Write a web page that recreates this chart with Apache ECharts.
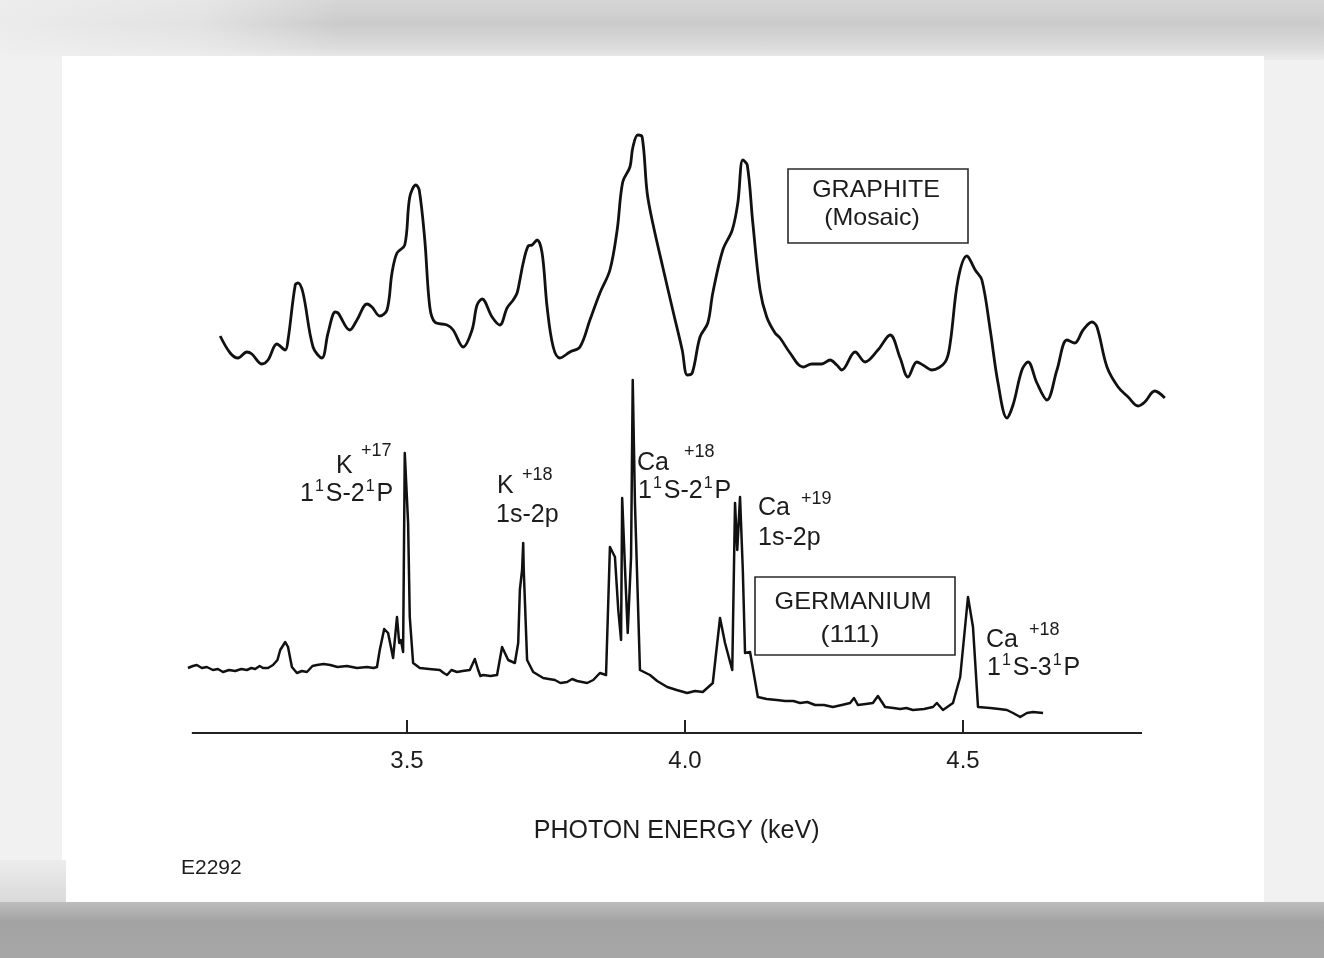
<!DOCTYPE html>
<html>
<head>
<meta charset="utf-8">
<script src="https://cdn.jsdelivr.net/npm/echarts@6/dist/echarts.min.js"></script>
<style>
  html, body { margin: 0; padding: 0; }
  body { width: 1324px; height: 958px; position: relative; overflow: hidden; background: #f1f1f1; }
  #paper { position: absolute; left: 62px; top: 56px; width: 1202px; height: 850px; background: #ffffff; }
  #topband { position: absolute; left: 0; top: 0; width: 1324px; height: 60px;
    background:
      linear-gradient(to right, rgba(241,241,241,0.85) 0px, rgba(241,241,241,0.6) 200px, rgba(241,241,241,0) 340px),
      linear-gradient(to bottom, #d6d6d6 0%, #cbcbcb 40%, #dcdcdc 80%, #ececec 100%); }
  #bottomband { position: absolute; left: 0; top: 902px; width: 1324px; height: 56px;
    background: linear-gradient(to bottom, #bdbdbd 0%, #a3a3a3 35%, #a6a6a6 100%); }
  #leftfoot { position: absolute; left: 0; top: 860px; width: 66px; height: 46px;
    background: linear-gradient(to bottom, #ececec 0%, #d8d8d8 100%); }
  #chart { position: absolute; left: 0; top: 0; width: 1324px; height: 958px; }
</style>
</head>
<body>
<div id="topband"></div>
<div id="paper"></div>
<div id="leftfoot"></div>
<div id="bottomband"></div>
<div id="chart"></div>
<script>
// ---- Data (photon energy in keV, intensity in arbitrary units) ----
const graphiteEnergy = [3.164,3.182,3.196,3.212,3.221,3.239,3.250,3.266,3.281,3.286,3.299,3.304,3.313,3.331,3.347,3.358,3.371,3.376,3.397,3.410,3.428,3.437,3.451,3.464,3.473,3.482,3.496,3.505,3.516,3.522,3.532,3.541,3.550,3.572,3.583,3.601,3.617,3.626,3.635,3.653,3.667,3.680,3.691,3.698,3.703,3.709,3.718,3.725,3.734,3.743,3.752,3.763,3.775,3.793,3.811,3.829,3.847,3.865,3.878,3.888,3.901,3.906,3.915,3.923,3.932,3.942,3.960,3.978,3.995,4.004,4.013,4.027,4.041,4.050,4.068,4.085,4.095,4.104,4.112,4.122,4.135,4.147,4.162,4.171,4.189,4.212,4.228,4.246,4.261,4.273,4.282,4.306,4.324,4.347,4.369,4.387,4.401,4.417,4.428,4.444,4.468,4.477,4.491,4.507,4.522,4.534,4.549,4.563,4.579,4.590,4.606,4.617,4.633,4.651,4.669,4.687,4.701,4.716,4.732,4.741,4.759,4.779,4.797,4.815,4.827,4.845,4.863];
const graphiteIntensity = [79.4,76.0,75.0,76.2,75.8,73.8,74.6,77.8,76.6,78.6,89.6,90.0,88.0,77.2,75.0,80.0,84.2,84.0,80.6,82.6,85.8,85.2,83.4,84.6,92.0,96.0,97.6,107.2,109.6,108.6,98.6,85.2,82.2,81.6,80.6,77.2,80.6,85.6,86.8,83.2,81.6,85.0,86.6,88.0,90.6,94.0,97.4,97.6,98.6,96.0,85.2,77.2,75.0,76.2,77.2,82.6,88.0,92.6,100.6,110.2,113.2,117.0,119.6,119.2,108.0,102.0,93.2,84.6,76.6,71.6,72.0,79.2,82.0,88.0,96.6,100.6,106.0,114.6,113.6,102.0,88.6,83.2,80.0,79.0,76.0,73.2,73.8,73.8,74.6,73.6,72.6,76.2,74.2,76.6,79.6,75.0,71.2,74.2,73.6,72.6,74.2,78.0,90.6,95.4,92.6,90.6,80.6,70.0,63.0,65.6,72.6,74.2,70.0,66.6,72.6,78.6,78.0,80.6,82.2,81.2,73.2,69.2,67.2,65.4,66.2,68.4,67.0];

const germaniumEnergy = [3.106,3.115,3.122,3.131,3.140,3.151,3.160,3.169,3.180,3.191,3.202,3.212,3.220,3.227,3.235,3.241,3.250,3.259,3.267,3.272,3.281,3.286,3.293,3.302,3.311,3.320,3.330,3.338,3.350,3.362,3.375,3.392,3.410,3.428,3.440,3.446,3.451,3.459,3.466,3.475,3.482,3.486,3.489,3.493,3.496,3.502,3.505,3.511,3.523,3.540,3.559,3.566,3.572,3.580,3.590,3.600,3.613,3.622,3.628,3.632,3.637,3.650,3.662,3.671,3.682,3.694,3.700,3.703,3.707,3.709,3.710,3.712,3.716,3.727,3.736,3.745,3.755,3.766,3.776,3.788,3.797,3.806,3.815,3.824,3.835,3.847,3.858,3.865,3.874,3.880,3.885,3.887,3.892,3.897,3.903,3.906,3.910,3.919,3.937,3.950,3.968,3.985,4.004,4.018,4.032,4.050,4.063,4.072,4.085,4.090,4.094,4.099,4.104,4.108,4.117,4.131,4.147,4.165,4.180,4.195,4.207,4.220,4.234,4.250,4.266,4.282,4.297,4.304,4.311,4.325,4.338,4.347,4.360,4.375,4.387,4.398,4.410,4.430,4.446,4.453,4.464,4.482,4.495,4.509,4.518,4.527,4.549,4.565,4.579,4.590,4.603,4.615,4.626,4.644];
const germaniumIntensity = [13.0,13.4,13.6,13.0,13.2,12.6,12.8,12.2,12.6,12.4,12.8,12.6,13.0,12.8,13.4,13.0,13.0,13.6,14.6,16.6,18.2,17.2,13.2,12.0,12.4,12.2,13.4,13.6,13.8,13.6,13.2,13.4,13.0,13.2,13.0,13.2,16.6,20.8,20.0,15.0,23.2,18.0,18.6,16.2,56.0,42.0,23.2,14.0,13.0,12.8,12.6,12.0,11.6,12.6,12.2,12.4,12.6,14.8,12.6,11.4,11.6,11.4,11.6,17.2,14.6,14.0,18.0,28.6,32.6,38.0,32.6,26.6,14.6,12.2,11.6,11.0,10.8,10.6,10.0,10.2,10.8,10.4,10.2,10.0,10.6,12.0,11.6,37.2,35.2,24.6,18.6,47.0,33.2,20.0,35.2,70.6,46.0,12.6,11.6,10.4,9.2,8.6,8.0,8.4,8.2,10.0,23.0,18.0,12.6,46.0,36.6,47.2,32.6,16.0,16.2,7.2,6.8,6.6,6.4,6.4,6.0,6.2,5.6,5.6,5.2,5.6,6.0,7.0,5.6,5.8,6.0,7.4,5.2,5.0,4.8,5.0,4.6,4.8,5.2,6.0,4.6,6.0,11.2,27.2,21.2,5.2,5.0,4.8,4.6,4.0,3.2,4.0,4.2,4.0];

const tickValues = [3.5, 4.0, 4.5];
const tickLabels = ['3.5', '4.0', '4.5'];
const axisSpan = [3.113, 4.822];
const axisTitle = 'PHOTON ENERGY (keV)';
const figureId = 'E2292';

const zip = (xs, ys) => xs.map((x, i) => [x, ys[i]]);

const FONT = '"Liberation Sans", Arial, Helvetica, sans-serif';
const INK = '#1c1c1c';
const SUP = { s: { fontSize: 16, lineHeight: 16, verticalAlign: 'top', padding: [0, 2, 0, 1], fontFamily: FONT, fill: INK } };

function txt(x, y, text, size, align, sx, lh) {
  const style = { text: text, fontSize: size, fontFamily: FONT, fill: INK, rich: SUP,
                  textAlign: align || 'left', textVerticalAlign: 'middle' };
  if (lh) style.lineHeight = lh;
  return { type: 'text', x: x, y: y, silent: true, scaleX: sx || 1, style: style };
}
function box(x, y, w, h) {
  return {
    type: 'rect', silent: true,
    shape: { x: x, y: y, width: w, height: h },
    style: { fill: 'none', stroke: '#2a2a2a', lineWidth: 1.6 }
  };
}

const chart = echarts.init(document.getElementById('chart'), null, { renderer: 'canvas' });
chart.setOption({
  animation: false,
  backgroundColor: 'transparent',
  grid: { left: 184.6, right: 155.3, top: 103, bottom: 225 },
  xAxis: {
    type: 'value', min: 3.1, max: 4.87,
    axisLine: { show: false },
    axisTick: { show: true, inside: true, length: 13, customValues: tickValues,
                lineStyle: { color: '#222', width: 2 } },
    axisLabel: { show: true, customValues: tickValues, margin: 16,
                 formatter: v => tickLabels[tickValues.indexOf(+(+v).toFixed(1))] || '',
                 fontSize: 24, fontFamily: FONT, color: INK },
    splitLine: { show: false },
    name: axisTitle, nameLocation: 'middle', nameGap: 86,
    nameTextStyle: { fontSize: 25, fontFamily: FONT, color: INK }
  },
  yAxis: { type: 'value', min: 0, max: 126, show: false },
  series: [
    {
      name: 'GRAPHITE (Mosaic)', type: 'line', data: zip(graphiteEnergy, graphiteIntensity),
      showSymbol: false, smooth: 0.35, clip: false,
      lineStyle: { color: '#111', width: 2.8 }
    },
    {
      name: 'GERMANIUM (111)', type: 'line', data: zip(germaniumEnergy, germaniumIntensity),
      showSymbol: false, smooth: false, clip: false,
      lineStyle: { color: '#111', width: 2.5, join: 'round' },
      markLine: {
        silent: true, symbol: ['none', 'none'], label: { show: false },
        lineStyle: { color: '#222', width: 2, type: 'solid' },
        data: [[{ coord: [axisSpan[0], 0] }, { coord: [axisSpan[1], 0] }]]
      }
    }
  ],
  graphic: [
    box(788, 169, 180, 74),
    txt(876, 190, 'GRAPHITE', 24, 'center', 1.04),
    txt(872, 218, '(Mosaic)', 24, 'center', 1.04),
    box(755, 577, 200, 78),
    txt(853, 602, 'GERMANIUM', 24, 'center', 1.05),
    txt(850, 635, '(111)', 24, 'center', 1.12),

    txt(336, 466, 'K', 25), txt(361, 451, '+17', 18), txt(300, 494, '1{s|1}S-2{s|1}P', 25, 'left', 1, 30),
    txt(497, 486, 'K', 25), txt(522, 475, '+18', 18), txt(496, 515, '1s-2p', 25),
    txt(637, 463, 'Ca', 25), txt(684, 452, '+18', 18), txt(638, 491, '1{s|1}S-2{s|1}P', 25, 'left', 1, 30),
    txt(758, 508, 'Ca', 25), txt(801, 499, '+19', 18), txt(758, 538, '1s-2p', 25),
    txt(986, 640, 'Ca', 25), txt(1029, 630, '+18', 18), txt(987, 668, '1{s|1}S-3{s|1}P', 25, 'left', 1, 30),

    txt(181, 868, figureId, 21)
  ]
});
</script>
</body>
</html>
